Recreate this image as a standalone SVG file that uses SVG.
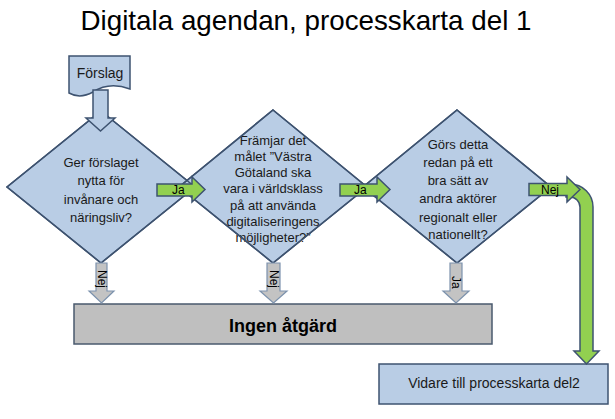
<svg xmlns="http://www.w3.org/2000/svg" width="615" height="419" viewBox="0 0 615 419">
<style>
text{font-family:"Liberation Sans",Arial,sans-serif;fill:#000}
.t{font-size:13px;text-anchor:middle;fill:#1a1a1a}
.shape{fill:#b9cde5;stroke:#3e5370;stroke-width:1.5}
.edge{fill:none;stroke:#3e5370;stroke-width:1.5}
.grn{fill:#92d050;stroke:#3e5370;stroke-width:1.5}
.gry{fill:#c3c3c3;stroke:#7c92ad;stroke-width:1.2}
.lbl{font-size:12px}
</style>
<rect width="615" height="419" fill="#fff"/>
<text x="306" y="30" font-size="28" text-anchor="middle" textLength="451" lengthAdjust="spacingAndGlyphs">Digitala agendan, processkarta del 1</text>

<g id="forslag">
<path class="shape" d="M69,56 H130 V89 C114,83 102,86 93,92 C84,97 76,97 69,93 Z"/>
<text class="t" x="100" y="78" style="font-size:14px">Förslag</text>
</g>

<g id="q1">
<polygon class="shape" points="101,111 195,187 101,263 7,187"/>
<text class="t" x="101" y="167">Ger förslaget</text>
<text class="t" x="101" y="185">nytta för</text>
<text class="t" x="101" y="204">invånare och</text>
<text class="t" x="101" y="222">näringsliv?</text>
</g>

<g id="q2">
<polygon class="shape" points="273,110 367,187 273,263 179,187"/>
<text class="t" x="273" y="145">Främjar det</text>
<text class="t" x="273" y="161">målet ”Västra</text>
<text class="t" x="273" y="177">Götaland ska</text>
<text class="t" x="273" y="193">vara i världsklass</text>
<text class="t" x="273" y="210">på att använda</text>
<text class="t" x="273" y="226">digitaliseringens</text>
<text class="t" x="273" y="242">möjligheter?”</text>
</g>

<g id="q3">
<polygon class="shape" points="457,110 551,187 457,263 363,187"/>
<text class="t" x="458" y="149">Görs detta</text>
<text class="t" x="458" y="167">redan på ett</text>
<text class="t" x="458" y="185">bra sätt av</text>
<text class="t" x="458" y="203">andra aktörer</text>
<text class="t" x="458" y="222">regionalt eller</text>
<text class="t" x="458" y="239">nationellt?</text>
</g>

<g id="outlines">
<polygon class="edge" points="101,111 195,187 101,263 7,187"/>
<polygon class="edge" points="273,110 367,187 273,263 179,187"/>
<polygon class="edge" points="457,110 551,187 457,263 363,187"/>
</g>

<g id="ingen">
<rect x="74" y="304" width="418" height="40" fill="#bfbfbf" stroke="#4a5a6e" stroke-width="1.5"/>
<text x="283" y="332" font-size="18" font-weight="bold" text-anchor="middle">Ingen åtgärd</text>
</g>

<g id="vidare">
<rect class="shape" x="379" y="364" width="229" height="40"/>
<text class="t" x="494" y="388" style="font-size:14px">Vidare till processkarta del2</text>
</g>

<g id="connectors">
<path class="shape" d="M93,90 H108 V118 H115 L100.5,131 L86,118 H93 Z"/>
<path class="grn" d="M157,184 H192 V177 L205,189.5 L192,202 V196 H157 Z"/>
<text class="lbl" x="172" y="194">Ja</text>
<path class="grn" d="M340,184 H377 V177 L390,189.5 L377,202 V196 H340 Z"/>
<text class="lbl" x="354" y="194">Ja</text>
<path class="grn" d="M566,184 H570 A23,23 0 0 1 593,207 V351 H599 L586.5,364 L574,351 H580 V207 A10,10 0 0 0 570,197 H566 Z"/>
<path class="grn" d="M529,183.5 H567 V177 L580,189.5 L567,202 V195.5 H529 Z"/>
<text class="lbl" x="541" y="194">Nej</text>
<path class="gry" d="M96,263 H107 V291 H114 L101.5,303 L89,291 H96 Z"/>
<text class="lbl" transform="translate(98,270) rotate(90)">Nej</text>
<path class="gry" d="M267,263 H280 V291 H287 L273.5,303 L260,291 H267 Z"/>
<text class="lbl" transform="translate(270,270) rotate(90)">Nej</text>
<path class="gry" d="M450,263 H462 V291 H469 L456,303 L443,291 H450 Z"/>
<text class="lbl" transform="translate(452,276) rotate(90)">Ja</text>
</g>
</svg>
